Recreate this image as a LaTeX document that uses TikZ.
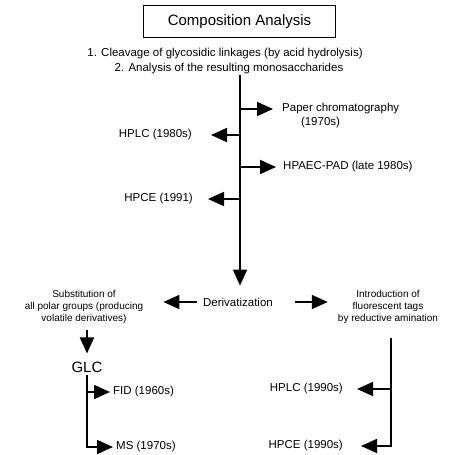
\documentclass[tikz,border=0pt]{standalone}
\usepackage{fontspec}
\setmainfont{Liberation Sans}
\usetikzlibrary{arrows.meta,positioning,calc}

\begin{document}
\begin{tikzpicture}[x=1pt,y=-1pt,
  lbl/.style={font=\fontsize{11.5}{13}\selectfont,inner sep=2pt},
  note/.style={font=\fontsize{10}{12}\selectfont,align=center,inner sep=1pt},
  br/.style={line width=1.7pt,-{Triangle[length=16pt,width=14pt]}}]
  \useasboundingbox (0,0) rectangle (451,455);

  % title
  \node[draw,line width=1.5pt,minimum width=192pt,minimum height=32pt,
    font=\fontsize{15}{18}\selectfont] (title) at (239.5,21.5) {Composition Analysis\hspace{12pt}};
  \node[lbl] (stepA) at (225,54) {1. Cleavage of glycosidic linkages (by acid hydrolysis)};
  \node[lbl] (stepB) at (229,69) {2. Analysis of the resulting monosaccharides};

  % main trunk
  \coordinate (top) at (240,75);
  \node[lbl,anchor=west] (paper) at (280,109) {Paper chromatography};
  \node[lbl] (paperyr) at (320.5,123) {(1970s)};
  \node[lbl,anchor=east] (hplcA) at (194,135) {HPLC (1980s)};
  \node[lbl,anchor=west] (hpaec) at (281,167) {HPAEC-PAD (late 1980s)};
  \node[lbl,anchor=east] (hpceA) at (195,199) {HPCE (1991)};
  \node[lbl] (deriv) at (238,302) {Derivatization};

  \draw[br,shorten >=10pt] (top) -- (top |- deriv.north);
  \draw[br,shorten >=7pt] (top |- paper.west) -- (paper.west);
  \draw[br,shorten >=17pt] (top |- hplcA.east) -- (hplcA.east);
  \draw[br,shorten >=5pt] (top |- hpaec.west) -- (hpaec.west);
  \draw[br,shorten >=13pt] (top |- hpceA.east) -- (hpceA.east);

  % derivatization
  \node[note] (subst) at (84,307) {Substitution of\\all polar groups (producing\\volatile derivatives)};
  \node[note] (intro) at (388,307) {Introduction of\\fluorescent tags\\by reductive amination};
  \draw[br,shorten <=4pt,shorten >=19pt] (deriv.west) -- (deriv.west -| subst.east);
  \draw[br,shorten <=20pt,shorten >=9pt] (deriv.east) -- (deriv.east -| intro.west);

  % GLC side
  \node[font=\fontsize{15}{18}\selectfont,inner sep=2pt] (glc) at (87,367) {GLC};
  \node[lbl,anchor=west] (fid) at (111,392) {FID (1960s)};
  \node[lbl,anchor=west] (ms) at (114,447) {MS (1970s)};
  \draw[br,shorten <=5pt,shorten >=6pt] (glc.north |- subst.south) -- (glc.north);
  \draw[br,shorten >=1pt] (glc.south) |- (ms.west);
  \draw[br,shorten >=1pt] (glc.south |- fid.west) -- (fid.west);

  % fluorescent tag side
  \coordinate (rtop) at (391,338);
  \node[lbl,anchor=east] (hplcB) at (345,389) {HPLC (1990s)};
  \node[lbl,anchor=east] (hpceB) at (345,446) {HPCE (1990s)};
  \draw[br,shorten >=16pt] (rtop) |- (hpceB.east);
  \draw[br,shorten >=12pt] (rtop |- hplcB.east) -- (hplcB.east);
\end{tikzpicture}
\end{document}
